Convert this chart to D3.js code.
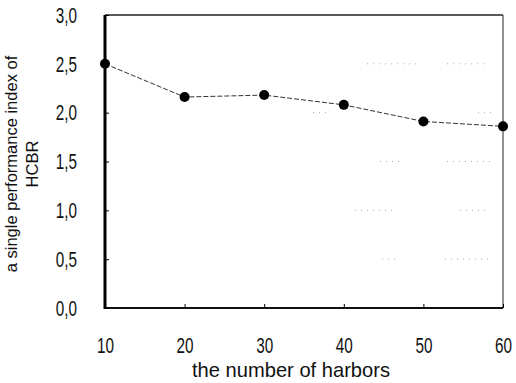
<!DOCTYPE html>
<html><head><meta charset="utf-8">
<script src="https://cdn.jsdelivr.net/npm/d3@7"></script>
<style>body{margin:0;background:#fff}</style>
</head><body>
<script>
const harbors = [10, 20, 30, 40, 50, 60];
const perfIndex = [2.50, 2.16, 2.18, 2.08, 1.91, 1.86];
const xTicks = [10, 20, 30, 40, 50, 60];
const yTicks = [0, 0.5, 1.0, 1.5, 2.0, 2.5, 3.0];
const xTitle = "the number of harbors";
const yTitleLines = ["a single performance index of", "HCBR"];

const W = 516, H = 383;
const m = {left: 105, top: 15, right: 13, bottom: 75};
const svg = d3.select("body").append("svg").attr("width", W).attr("height", H);
const x = d3.scaleLinear().domain([10, 60]).range([m.left, W - m.right]);
const y = d3.scaleLinear().domain([0, 3]).range([H - m.bottom, m.top]);
const font = "'Liberation Sans',Arial,sans-serif";
const sx = 0.68;

// faint partial gridlines (scan remnants)
const g = svg.append("g");
[[2.5, 367, 420], [2.5, 447, 488], [2.0, 313, 330], [2.0, 478, 495],
 [1.5, 380, 400], [1.5, 447, 490], [1.0, 355, 395], [1.0, 460, 490],
 [0.5, 382, 400], [0.5, 445, 490]].forEach(([v, a, b]) => {
  g.append("line").attr("x1", a).attr("x2", b)
    .attr("y1", y(v)).attr("y2", y(v)).attr("stroke", "#aaa").attr("stroke-width", 1)
    .attr("stroke-dasharray", "1,5");
});

// frame
svg.append("line").attr("x1", x(10)).attr("x2", x(60)).attr("y1", y(3)).attr("y2", y(3))
  .attr("stroke", "#222").attr("stroke-width", 1.5);
svg.append("line").attr("x1", x(60)).attr("x2", x(60)).attr("y1", y(3)).attr("y2", y(0))
  .attr("stroke", "#555").attr("stroke-width", 1.3);
svg.append("line").attr("x1", x(10)).attr("x2", x(60)).attr("y1", y(0)).attr("y2", y(0))
  .attr("stroke", "#111").attr("stroke-width", 1.8);
svg.append("line").attr("x1", x(10)).attr("x2", x(10)).attr("y1", y(3)).attr("y2", y(0) + 1)
  .attr("stroke", "#000").attr("stroke-width", 3);

const xAxis = svg.append("g").attr("transform", `translate(0,${y(0)})`)
  .call(d3.axisBottom(x).tickValues(xTicks).tickSize(-4).tickPadding(29).tickFormat(d3.format("d")));
const yAxis = svg.append("g").attr("transform", `translate(${x(10)},0)`)
  .call(d3.axisLeft(y).tickValues(yTicks).tickSize(-4).tickPadding(28).tickFormat(d => d3.format(".1f")(d).replace(".", ",")));
[xAxis, yAxis].forEach(a => {
  a.select(".domain").remove();
  a.attr("font-size", null).attr("font-family", null);
  a.selectAll(".tick line").attr("stroke", "#000").attr("stroke-width", 1);
  a.selectAll(".tick text").style("font-family", font).style("font-size", "22.5px").attr("fill", "#111");
});
// horizontal condensing of tick labels
xAxis.selectAll(".tick text").attr("transform", `scale(${sx},1)`);
yAxis.selectAll(".tick text").attr("transform", `scale(${sx},1)`).attr("x", -28 / sx);

// line
svg.append("path").datum(harbors.map((h, i) => [h, perfIndex[i]]))
  .attr("d", d3.line().x(d => x(d[0])).y(d => y(d[1])))
  .attr("fill", "none").attr("stroke", "#333").attr("stroke-width", 1).attr("stroke-dasharray", "5,2");
svg.selectAll("circle.pt").data(harbors).join("circle")
  .attr("cx", d => x(d)).attr("cy", (d, i) => y(perfIndex[i])).attr("r", 5).attr("fill", "#000");

// titles
const xt = svg.append("text").attr("x", 291).attr("y", 377).attr("text-anchor", "middle")
  .style("font-family", font).style("font-size", "21px").attr("fill", "#111").text(xTitle);
xt.attr("textLength", 198).attr("lengthAdjust", "spacingAndGlyphs");

const yt = svg.append("text").attr("transform", `translate(17,${164}) rotate(-90)`)
  .attr("text-anchor", "middle").style("font-family", font).style("font-size", "16.5px").attr("fill", "#111");
yTitleLines.forEach((t, i) => yt.append("tspan").attr("x", 0).attr("dy", i === 0 ? 0 : 21).text(t));
</script>
</body></html>
